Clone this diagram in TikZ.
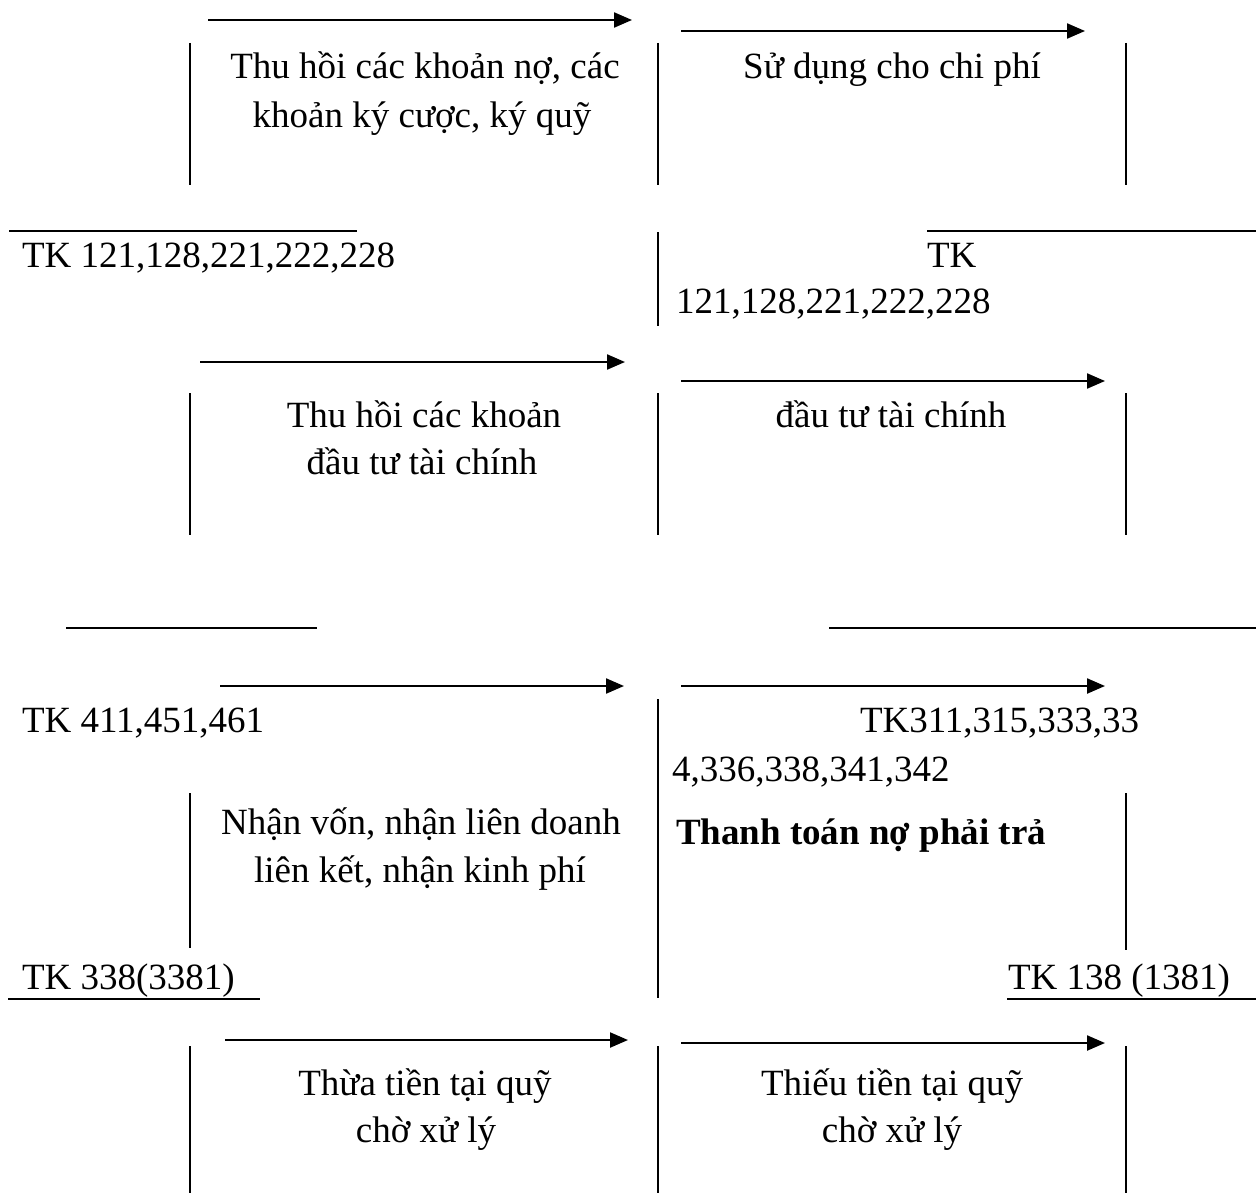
\documentclass[tikz,border=0pt]{standalone}
\usepackage{fontspec}
\setmainfont{Liberation Serif}
\usetikzlibrary{arrows.meta}
\begin{document}
\begin{tikzpicture}[x=0.5pt,y=-0.5pt,
  txt/.style={inner sep=0pt,outer sep=0pt,font=\fontsize{18.5pt}{22pt}\selectfont},
  ctxt/.style={txt,anchor=base},
  ltxt/.style={txt,anchor=base west},
  rule/.style={line width=1.1pt},
  flow/.style={line width=1.1pt,-{Triangle[length=9pt,width=7.5pt]}}]
\useasboundingbox (0,0) rectangle (1256,1193);

% ---------- Row 1 ----------
\coordinate (a1s) at (208,20);  \coordinate (a1e) at (632,20);
\coordinate (a2s) at (681,31);  \coordinate (a2e) at (1085,31);
\draw[flow] (a1s) -- (a1e);
\draw[flow] (a2s) -- (a2e);
\coordinate (v1at) at (190,43);  \coordinate (v1ab) at (190,185);
\coordinate (v1bt) at (658,43);  \coordinate (v1bb) at (658,185);
\coordinate (v1ct) at (1126,43); \coordinate (v1cb) at (1126,185);
\draw[rule] (v1at) -- (v1ab);
\draw[rule] (v1bt) -- (v1bb);
\draw[rule] (v1ct) -- (v1cb);
\node[ctxt] (t1a) at (425,79) {Thu hồi các khoản nợ, các};
\node[ctxt] (t1b) at (422,127) {khoản ký cược, ký quỹ};
\node[ctxt] (t1c) at (892,79) {Sử dụng cho chi phí};

% ---------- Row 2 ----------
\coordinate (h2as) at (9,231);   \coordinate (h2ae) at (357,231);
\coordinate (h2bs) at (927,231); \coordinate (h2be) at (1256,231);
\draw[rule] (h2as) -- (h2ae);
\draw[rule] (h2bs) -- (h2be);
\coordinate (v2t) at (658,232); \coordinate (v2b) at (658,326);
\draw[rule] (v2t) -- (v2b);
\node[ltxt] (tk1) at (22,267) {TK 121,128,221,222,228};
\node[ltxt] (tk2a) at (927,267) {TK};
\node[ltxt] (tk2b) at (676,313) {121,128,221,222,228};

% ---------- Row 3 ----------
\coordinate (a3s) at (200,362); \coordinate (a3e) at (625,362);
\coordinate (a4s) at (681,381); \coordinate (a4e) at (1105,381);
\draw[flow] (a3s) -- (a3e);
\draw[flow] (a4s) -- (a4e);
\coordinate (v3at) at (190,393);  \coordinate (v3ab) at (190,535);
\coordinate (v3bt) at (658,393);  \coordinate (v3bb) at (658,535);
\coordinate (v3ct) at (1126,393); \coordinate (v3cb) at (1126,535);
\draw[rule] (v3at) -- (v3ab);
\draw[rule] (v3bt) -- (v3bb);
\draw[rule] (v3ct) -- (v3cb);
\node[ctxt] (t3a) at (424,427) {Thu hồi các khoản};
\node[ctxt] (t3b) at (422,474) {đầu tư tài chính};
\node[ctxt] (t3c) at (891,427) {đầu tư tài chính};

% ---------- Row 4 ----------
\coordinate (h4as) at (66,628);  \coordinate (h4ae) at (317,628);
\coordinate (h4bs) at (829,628); \coordinate (h4be) at (1256,628);
\draw[rule] (h4as) -- (h4ae);
\draw[rule] (h4bs) -- (h4be);
\coordinate (a5s) at (220,686); \coordinate (a5e) at (624,686);
\coordinate (a6s) at (681,686); \coordinate (a6e) at (1105,686);
\draw[flow] (a5s) -- (a5e);
\draw[flow] (a6s) -- (a6e);
\coordinate (v4at) at (190,793);  \coordinate (v4ab) at (190,948);
\coordinate (v4bt) at (658,699);  \coordinate (v4bb) at (658,998);
\coordinate (v4ct) at (1126,793); \coordinate (v4cb) at (1126,950);
\draw[rule] (v4at) -- (v4ab);
\draw[rule] (v4bt) -- (v4bb);
\draw[rule] (v4ct) -- (v4cb);
\node[ltxt] (tk3) at (22,732) {TK 411,451,461};
\node[ltxt] (tk4a) at (860,732) {TK311,315,333,33};
\node[ltxt] (tk4b) at (672,781) {4,336,338,341,342};
\node[ltxt,font=\fontsize{18.5pt}{22pt}\selectfont\bfseries] (t4c) at (676,844) {Thanh toán nợ phải trả};
\node[ctxt] (t4a) at (421,834) {Nhận vốn, nhận liên doanh};
\node[ctxt] (t4b) at (420,882) {liên kết, nhận kinh phí};
\node[ltxt] (tk5) at (22,989) {TK 338(3381)};
\node[ltxt] (tk6) at (1008,989) {TK 138 (1381)};
\coordinate (h5as) at (8,999);    \coordinate (h5ae) at (260,999);
\coordinate (h5bs) at (1007,999); \coordinate (h5be) at (1256,999);
\draw[rule] (h5as) -- (h5ae);
\draw[rule] (h5bs) -- (h5be);

% ---------- Row 5 ----------
\coordinate (a7s) at (225,1040); \coordinate (a7e) at (628,1040);
\coordinate (a8s) at (681,1043); \coordinate (a8e) at (1105,1043);
\draw[flow] (a7s) -- (a7e);
\draw[flow] (a8s) -- (a8e);
\coordinate (v5at) at (190,1046);  \coordinate (v5ab) at (190,1193);
\coordinate (v5bt) at (658,1046);  \coordinate (v5bb) at (658,1193);
\coordinate (v5ct) at (1126,1046); \coordinate (v5cb) at (1126,1193);
\draw[rule] (v5at) -- (v5ab);
\draw[rule] (v5bt) -- (v5bb);
\draw[rule] (v5ct) -- (v5cb);
\node[ctxt] (t5a) at (425,1095) {Thừa tiền tại quỹ};
\node[ctxt] (t5b) at (426,1142) {chờ xử lý};
\node[ctxt] (t5c) at (892,1095) {Thiếu tiền tại quỹ};
\node[ctxt] (t5d) at (892,1142) {chờ xử lý};
\end{tikzpicture}
\end{document}
